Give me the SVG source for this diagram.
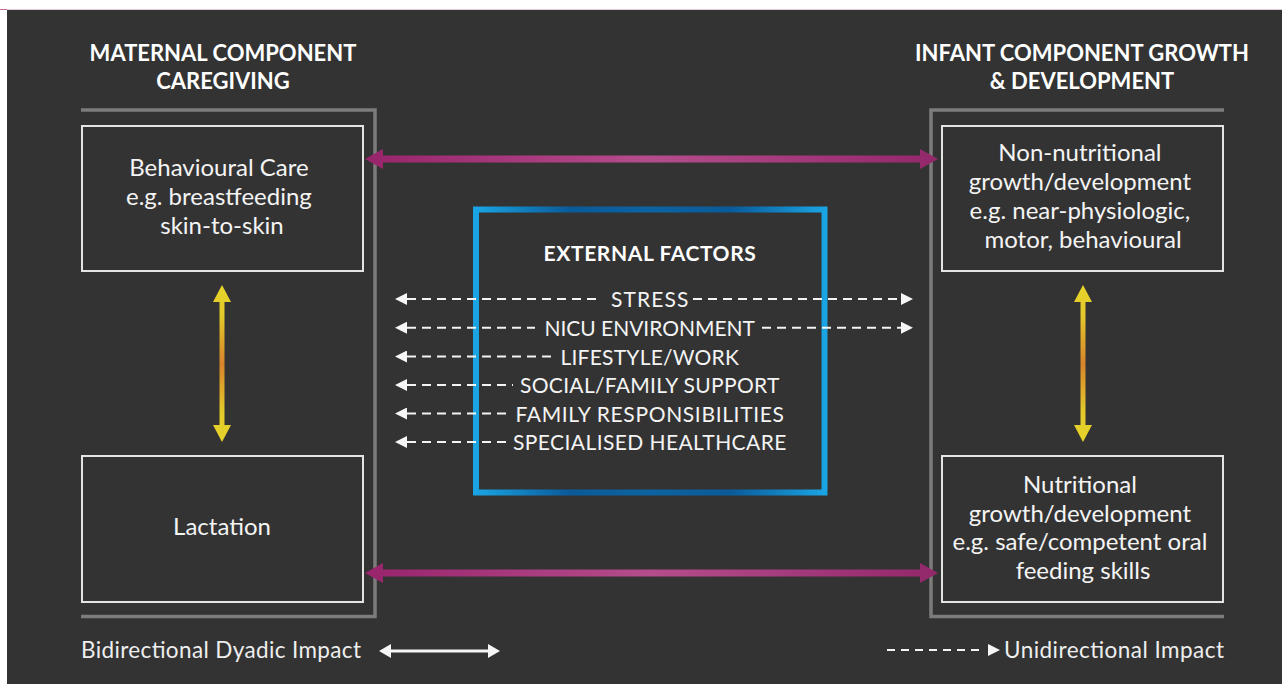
<svg xmlns="http://www.w3.org/2000/svg" width="1282" height="684" viewBox="0 0 1282 684">
  <defs>
    <style>
      text { font-family: Lato, "Open Sans", "Liberation Sans", sans-serif; fill: #f4f4f4; }
      .heading { font-weight: 700; font-size: 22px; fill: #ffffff; text-anchor: middle; letter-spacing: 0px; }
      .body { font-size: 24px; text-anchor: middle; }
      .factor { font-size: 21px; text-anchor: middle; letter-spacing: 0.6px; }
      .title { font-weight: 700; font-size: 21px; fill: #ffffff; text-anchor: middle; letter-spacing: 0.6px; }
      .legend { font-size: 22.5px; fill: #eeeeee; }
      .box { fill: none; stroke: #e4e4e4; stroke-width: 2; }
      .bracket { fill: none; stroke: #7e7b7b; stroke-width: 3.5; }
      .dash { fill: none; stroke: #f4f4f4; stroke-width: 2; stroke-dasharray: 9 6; }
    </style>
    <linearGradient id="purpleTop" gradientUnits="userSpaceOnUse" x1="365" y1="0" x2="938" y2="0">
      <stop offset="0" stop-color="#98246c"/>
      <stop offset="0.5" stop-color="#b54d8c"/>
      <stop offset="1" stop-color="#92276a"/>
    </linearGradient>
    <linearGradient id="purpleBottom" gradientUnits="userSpaceOnUse" x1="365" y1="0" x2="938" y2="0">
      <stop offset="0" stop-color="#98246c"/>
      <stop offset="0.5" stop-color="#b54d8c"/>
      <stop offset="1" stop-color="#92276a"/>
    </linearGradient>
    <linearGradient id="yellow" gradientUnits="objectBoundingBox" x1="0" y1="0" x2="0" y2="1">
      <stop offset="0" stop-color="#e6d52a"/>
      <stop offset="0.2" stop-color="#e3c82a"/>
      <stop offset="0.5" stop-color="#d8842b"/>
      <stop offset="0.8" stop-color="#e3c82a"/>
      <stop offset="1" stop-color="#e6d52a"/>
    </linearGradient>
    <linearGradient id="blueFrame" gradientUnits="objectBoundingBox" x1="0" y1="0" x2="1" y2="0">
      <stop offset="0" stop-color="#1aa4e3"/>
      <stop offset="0.27" stop-color="#0a5a99"/>
      <stop offset="0.5" stop-color="#0d63a1"/>
      <stop offset="0.73" stop-color="#0a5a99"/>
      <stop offset="1" stop-color="#1aa4e3"/>
    </linearGradient>
    <!-- solid white triangle head for the dashed one-way arrows -->
    <marker id="uni" viewBox="0 0 12 12" refX="0" refY="6" markerWidth="12" markerHeight="12" markerUnits="userSpaceOnUse" orient="auto-start-reverse">
      <path d="M0,0 L12,6 L0,12 z" fill="#f6f6f6"/>
    </marker>
    <marker id="bi" viewBox="0 0 12 14" refX="0" refY="7" markerWidth="12" markerHeight="14" markerUnits="userSpaceOnUse" orient="auto-start-reverse">
      <path d="M0,0 L12,7 L0,14 z" fill="#f6f6f6"/>
    </marker>
  </defs>

  <!-- page and panel -->
  <rect x="0" y="0" width="1282" height="684" fill="#ffffff"/>
  <line x1="0" y1="9.5" x2="1282" y2="9.5" stroke="#e6cadb" stroke-width="1"/>
  <line x1="0" y1="9.5" x2="7" y2="9.5" stroke="#c46a9f" stroke-width="1"/>
  <rect x="7" y="10" width="1275" height="674" fill="#333333"/>

  <!-- component brackets -->
  <path class="bracket" d="M81,110 H375 V616.5 H81"/>
  <path class="bracket" d="M1224,110 H931 V616.5 H1224"/>

  <g id="maternal-heading">
    <text class="heading" x="223" y="61">MATERNAL COMPONENT</text>
    <text class="heading" x="223" y="89">CAREGIVING</text>
  </g>

  <g id="infant-heading">
    <text class="heading" x="1082" y="61">INFANT COMPONENT GROWTH</text>
    <text class="heading" x="1082" y="89">&amp; DEVELOPMENT</text>
  </g>

  <g id="behavioural-care">
    <rect class="box" x="82" y="126" width="281" height="145"/>
    <text class="body" x="222">
      <tspan x="222" y="176">Behavioural Care</tspan>
      <tspan x="222" y="205">e.g. breastfeeding</tspan>
      <tspan x="222" y="234">skin-to-skin</tspan>
    </text>
  </g>

  <g id="lactation">
    <rect class="box" x="82" y="456" width="281" height="146"/>
    <text class="body" x="222" y="535">Lactation</text>
  </g>

  <g id="non-nutritional">
    <rect class="box" x="942" y="126" width="281" height="145"/>
    <text class="body" x="1083">
      <tspan x="1083" y="161">Non-nutritional</tspan>
      <tspan x="1083" y="190">growth/development</tspan>
      <tspan x="1083" y="219">e.g. near-physiologic,</tspan>
      <tspan x="1083" y="248">motor, behavioural</tspan>
    </text>
  </g>

  <g id="nutritional">
    <rect class="box" x="942" y="456" width="281" height="146"/>
    <text class="body" x="1083">
      <tspan x="1083" y="493">Nutritional</tspan>
      <tspan x="1083" y="522">growth/development</tspan>
      <tspan x="1083" y="550">e.g. safe/competent oral</tspan>
      <tspan x="1083" y="579">feeding skills</tspan>
    </text>
  </g>

  <g id="external-factors">
    <rect x="476" y="209.5" width="348.5" height="283" fill="none" stroke="url(#blueFrame)" stroke-width="6"/>
    <text class="title" x="650" y="261">EXTERNAL FACTORS</text>
    <text class="factor" x="650" y="307" textLength="78">STRESS</text>
    <text class="factor" x="650" y="335.5" textLength="211">NICU ENVIRONMENT</text>
    <text class="factor" x="650" y="364.5" textLength="179">LIFESTYLE/WORK</text>
    <text class="factor" x="650" y="393" textLength="260">SOCIAL/FAMILY SUPPORT</text>
    <text class="factor" x="650" y="421.5" textLength="269">FAMILY RESPONSIBILITIES</text>
    <text class="factor" x="650" y="450" textLength="274">SPECIALISED HEALTHCARE</text>
  </g>

  <g id="connectors">
    <!-- dyadic links between mother and infant -->
    <path fill="url(#purpleTop)" d="M365,159 L383,149 L383,155.5 L920,155.5 L920,149 L938,159 L920,169 L920,162.5 L383,162.5 L383,169 z"/>
    <path fill="url(#purpleBottom)" d="M365,573 L383,563 L383,569.5 L920,569.5 L920,563 L938,573 L920,583 L920,576.5 L383,576.5 L383,583 z"/>
    <!-- links inside each component -->
    <path fill="url(#yellow)" d="M222,285 L231,302 L224.5,302 L224.5,425 L231,425 L222,442 L213,425 L219.5,425 L219.5,302 L213,302 z"/>
    <path fill="url(#yellow)" d="M1083,285 L1092,302 L1085.5,302 L1085.5,425 L1092,425 L1083,442 L1074,425 L1080.5,425 L1080.5,302 L1074,302 z"/>
    <!-- external factor influences -->
    <path class="dash" marker-start="url(#uni)" d="M407,299 H599"/>
    <path class="dash" marker-end="url(#uni)" d="M693,299 H901"/>
    <path class="dash" marker-start="url(#uni)" d="M407,327.7 H535"/>
    <path class="dash" marker-end="url(#uni)" d="M762,327.7 H901"/>
    <path class="dash" marker-start="url(#uni)" d="M407,356.5 H553"/>
    <path class="dash" marker-start="url(#uni)" d="M407,385 H513"/>
    <path class="dash" marker-start="url(#uni)" d="M407,413.5 H507"/>
    <path class="dash" marker-start="url(#uni)" d="M407,442 H507"/>
  </g>

  <g id="legend">
    <text class="legend" x="81" y="658" textLength="280">Bidirectional Dyadic Impact</text>
    <path d="M391,651 H488" stroke="#f6f6f6" stroke-width="3" marker-start="url(#bi)" marker-end="url(#bi)"/>
    <path class="dash" d="M887,650 H982" style="stroke-dasharray:8 6"/>
    <path d="M988,644 L1000,650 L988,656 z" fill="#f6f6f6"/>
    <text class="legend" x="1004" y="658" textLength="220">Unidirectional Impact</text>
  </g>
</svg>
